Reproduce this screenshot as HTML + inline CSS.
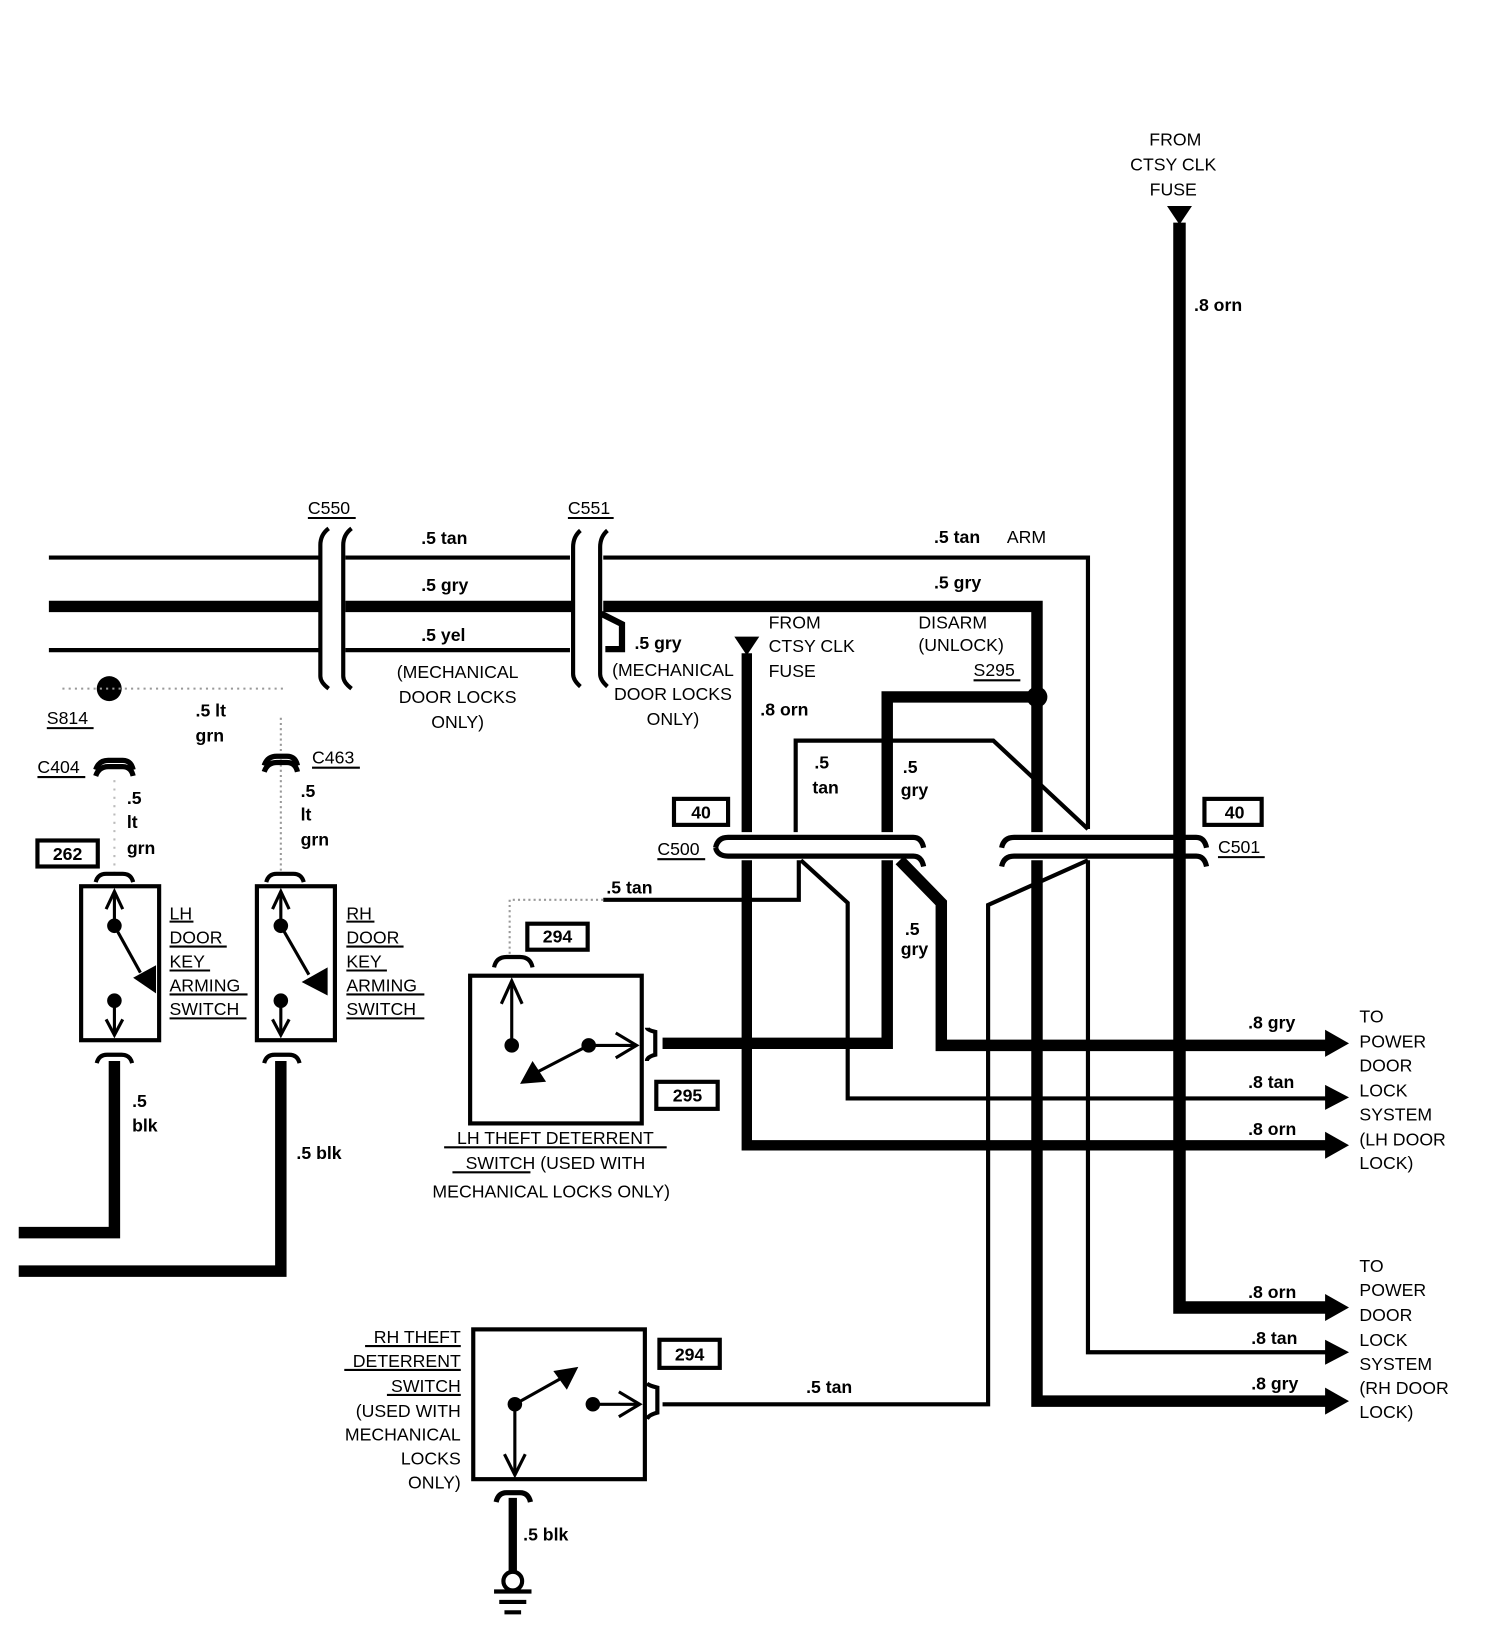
<!DOCTYPE html>
<html><head><meta charset="utf-8"><style>
html,body{margin:0;padding:0;background:#fff}
svg{display:block}
text{font-family:"Liberation Sans",sans-serif;font-weight:bold;font-size:17px;fill:#000}
.n{font-weight:normal}
</style></head><body>
<svg width="1504" height="1630" viewBox="0 0 1446 1567" preserveAspectRatio="none" xmlns="http://www.w3.org/2000/svg">
<g fill="none" stroke="#000" stroke-linecap="butt" stroke-linejoin="miter">
<!-- top feed -->
<polygon points="1122,198 1146,198 1134,216" fill="#000" stroke="none"/>
<polyline points="1134,214 1134,1257 1280,1257" stroke-width="12"/>
<!-- top wires -->
<g stroke-width="4">
<line x1="47" y1="536" x2="308" y2="536"/><line x1="332" y1="536" x2="548" y2="536"/>
<polyline points="580,536 1046,536 1046,797"/>
<line x1="47" y1="625" x2="308" y2="625"/><line x1="332" y1="625" x2="548" y2="625"/>
</g>
<g stroke-width="11">
<line x1="47" y1="583" x2="308" y2="583"/><line x1="332" y1="583" x2="550" y2="583"/>
<polyline points="580,583 997,583 997,800"/>
<polyline points="997,670 853,670 853,800"/>
</g>
<polyline points="578,590 598,600 598,624 582,624" stroke-width="6"/>
<!-- C550/C551 brackets -->
<g stroke-width="4">
<path d="M316,508 Q308,514 308,524 L308,650 Q308,656 316,662"/>
<path d="M338,508 Q330,514 330,524 L330,650 Q330,656 338,662"/>
<path d="M558,510 Q551,516 551,526 L551,648 Q551,654 558,660"/>
<path d="M584,510 Q577,516 577,526 L577,648 Q577,654 584,660"/>
</g>
<!-- second fuse feed -->
<polygon points="706,612 730,612 718,630" fill="#000" stroke="none"/>
<line x1="718" y1="628" x2="718" y2="800" stroke-width="10"/>
<polyline points="718,827 718,1101 1280,1101" stroke-width="10"/>
<!-- tan into C500 -->
<polyline points="765,800 765,712 955,712 1046,797" stroke-width="4"/>
<!-- connectors C500 C501 -->
<g stroke-width="5">
<path d="M688,815 Q690,805 700,805 L878,805 Q886,805 888,815"/>
<path d="M688,815 Q690,823 700,823 L878,823 Q886,823 888,833"/>
<path d="M963,815 Q965,805 975,805 L1150,805 Q1158,805 1160,815"/>
<path d="M963,833 Q965,823 975,823 L1150,823 Q1158,823 1160,833"/>
</g>
<!-- below C500 -->
<polyline points="770,827 815,868 815,1056 1280,1056" stroke-width="4"/>
<polyline points="865,827 905,868 905,1005 1280,1005" stroke-width="11"/>
<polyline points="637,1003 853,1003 853,827" stroke-width="11"/>
<polyline points="768,827 768,865 580,865" stroke-width="4"/>
<polyline points="580,865 490,865 490,918" stroke-width="2" stroke="#999" stroke-dasharray="2,3"/>
<!-- below C501 -->
<polyline points="1046,827 950,870 950,1350 637,1350" stroke-width="4"/>
<polyline points="1046,827 1046,1300 1280,1300" stroke-width="4"/>
<polyline points="997,827 997,1347 1280,1347" stroke-width="11"/>
<!-- arrowheads -->
<g fill="#000" stroke="none">
<polygon points="1274,990 1297,1003 1274,1016"/>
<polygon points="1274,1043 1297,1055 1274,1067"/>
<polygon points="1274,1088 1297,1101 1274,1114"/>
<polygon points="1274,1244 1297,1257 1274,1270"/>
<polygon points="1274,1288 1297,1300 1274,1312"/>
<polygon points="1274,1334 1297,1347 1274,1360"/>
<circle cx="997" cy="670" r="10"/>
<circle cx="105" cy="662" r="12"/>
</g>
<!-- boxes -->
<g stroke-width="4">
<rect x="648" y="768" width="52" height="25"/><rect x="1158" y="768" width="55" height="25"/>
<rect x="36" y="808" width="58" height="25"/>
<rect x="507" y="888" width="58" height="25"/><rect x="631" y="1040" width="59" height="26"/>
<rect x="634" y="1288" width="58" height="27"/>
</g>
<!-- left dotted -->
<line x1="60" y1="662" x2="275" y2="662" stroke="#999" stroke-width="2" stroke-dasharray="2,4"/>
<line x1="270" y1="690" x2="270" y2="840" stroke="#999" stroke-width="2" stroke-dasharray="2,3"/>
<line x1="110" y1="750" x2="110" y2="840" stroke="#bbb" stroke-width="2" stroke-dasharray="2,6"/>
<!-- C404 / C463 -->
<g stroke-width="5">
<path d="M92,740 Q95,731 104,731 L118,731 Q126,731 128,740"/>
<path d="M92,746 Q95,737 104,737 L118,737 Q126,737 128,746"/>
<path d="M254,736 Q257,727 266,727 L276,727 Q284,727 286,736"/>
<path d="M254,742 Q257,733 266,733 L276,733 Q284,733 286,742"/>
</g>
<!-- LH switch -->
<g stroke-width="4">
<rect x="78" y="852" width="75" height="148"/>
<rect x="247" y="852" width="75" height="148"/>
<path d="M92,848 Q94,840 102,840 L118,840 Q126,840 128,848"/>
<path d="M256,848 Q258,840 266,840 L282,840 Q290,840 292,848"/>
<path d="M93,1022 Q95,1014 103,1014 L117,1014 Q125,1014 127,1022"/>
<path d="M254,1022 Q256,1014 264,1014 L278,1014 Q286,1014 288,1022"/>
</g>
<g stroke-width="3">
<line x1="110" y1="890" x2="110" y2="857"/><polyline points="102,874 110,857 118,874"/>
<line x1="110" y1="890" x2="135" y2="935"/>
<line x1="110" y1="962" x2="110" y2="995"/><polyline points="102,980 110,995 118,980"/>
<line x1="270" y1="890" x2="270" y2="857"/><polyline points="262,874 270,857 278,874"/>
<line x1="270" y1="890" x2="297" y2="937"/>
<line x1="270" y1="962" x2="270" y2="995"/><polyline points="262,980 270,995 278,980"/>
</g>
<g fill="#000" stroke="none">
<circle cx="110" cy="890" r="7"/><circle cx="110" cy="962" r="7"/>
<polygon points="128,940 150,928 150,955"/>
<circle cx="270" cy="890" r="7"/><circle cx="270" cy="962" r="7"/>
<polygon points="290,944 315,930 315,957"/>
</g>
<polyline points="110,1020 110,1185 18,1185" stroke-width="11"/>
<polyline points="270,1020 270,1222 18,1222" stroke-width="11"/>
<!-- LH theft switch -->
<g stroke-width="4">
<rect x="452" y="938" width="165" height="142"/>
<path d="M475,930 Q477,920 487,920 L500,920 Q510,920 512,930"/>
<path d="M622,988 Q622,990 630,992 L630,1014 Q622,1016 622,1020"/>
<path d="M622,1330 Q624,1332 632,1334 L632,1358 Q624,1360 622,1364"/>
</g>
<g stroke-width="3">
<line x1="492" y1="1005" x2="492" y2="943"/><polyline points="482,965 492,943 502,965"/>
<line x1="512" y1="1033" x2="566" y2="1005"/><line x1="566" y1="1005" x2="612" y2="1005"/>
<polyline points="592,993 612,1005 592,1017"/>
</g>
<g fill="#000" stroke="none">
<circle cx="492" cy="1005" r="7"/><circle cx="566" cy="1005" r="7"/>
<polygon points="500,1042 512,1020 525,1040"/>
</g>
<!-- RH theft switch -->
<rect x="455" y="1278" width="165" height="144" stroke-width="4"/>
<g stroke-width="3">
<line x1="495" y1="1350" x2="545" y2="1322"/>
<line x1="495" y1="1350" x2="495" y2="1418"/><polyline points="485,1398 495,1418 505,1398"/>
<line x1="570" y1="1350" x2="615" y2="1350"/><polyline points="595,1338 615,1350 595,1362"/>
</g>
<g fill="#000" stroke="none">
<circle cx="495" cy="1350" r="7"/><circle cx="570" cy="1350" r="7"/>
<polygon points="532,1318 556,1314 545,1336"/>
</g>
<path d="M477,1444 Q479,1435 487,1435 L500,1435 Q508,1435 510,1444" stroke-width="5"/>
<line x1="493" y1="1440" x2="493" y2="1512" stroke-width="8"/>
<circle cx="493" cy="1520" r="9" stroke-width="4"/>
<g stroke-width="4"><line x1="475" y1="1530" x2="511" y2="1530"/><line x1="480" y1="1540" x2="506" y2="1540"/><line x1="485" y1="1550" x2="501" y2="1550"/></g>
<!-- underlines -->
<g stroke-width="2">
<line x1="296" y1="498" x2="342" y2="498"/><line x1="546" y1="498" x2="590" y2="498"/>
<line x1="45" y1="700" x2="90" y2="700"/><line x1="36" y1="747" x2="82" y2="747"/>
<line x1="300" y1="738" x2="346" y2="738"/><line x1="632" y1="826" x2="678" y2="826"/>
<line x1="1171" y1="824" x2="1216" y2="824"/><line x1="936" y1="654" x2="981" y2="654"/>
<line x1="163" y1="886" x2="186" y2="886"/><line x1="163" y1="910" x2="218" y2="910"/>
<line x1="163" y1="933" x2="202" y2="933"/><line x1="163" y1="956" x2="238" y2="956"/><line x1="163" y1="979" x2="237" y2="979"/>
<line x1="333" y1="886" x2="360" y2="886"/><line x1="333" y1="910" x2="388" y2="910"/>
<line x1="333" y1="933" x2="372" y2="933"/><line x1="333" y1="956" x2="408" y2="956"/><line x1="333" y1="979" x2="408" y2="979"/>
<line x1="427" y1="1103" x2="641" y2="1103"/><line x1="435" y1="1127" x2="510" y2="1127"/>
<line x1="351" y1="1294" x2="443" y2="1294"/><line x1="331" y1="1317" x2="443" y2="1317"/><line x1="372" y1="1341" x2="443" y2="1341"/>
</g>
</g>
<g>
<text x="1130" y="140" text-anchor="middle" class="n">FROM</text>
<text x="1128" y="164" text-anchor="middle" class="n">CTSY CLK</text>
<text x="1128" y="188" text-anchor="middle" class="n">FUSE</text>
<text x="1148" y="299">.8 orn</text>
<text x="296" y="494" class="n">C550</text><text x="546" y="494" class="n">C551</text>
<text x="405" y="523">.5 tan</text><text x="405" y="568">.5 gry</text><text x="405" y="616">.5 yel</text>
<text x="898" y="522">.5 tan</text><text x="968" y="522" class="n">ARM</text>
<text x="898" y="566">.5 gry</text>
<text x="440" y="652" text-anchor="middle" class="n">(MECHANICAL</text>
<text x="440" y="676" text-anchor="middle" class="n">DOOR LOCKS</text>
<text x="440" y="700" text-anchor="middle" class="n">ONLY)</text>
<text x="610" y="624">.5 gry</text>
<text x="647" y="650" text-anchor="middle" class="n">(MECHANICAL</text>
<text x="647" y="673" text-anchor="middle" class="n">DOOR LOCKS</text>
<text x="647" y="697" text-anchor="middle" class="n">ONLY)</text>
<text x="739" y="604" class="n">FROM</text><text x="739" y="627" class="n">CTSY CLK</text><text x="739" y="651" class="n">FUSE</text>
<text x="731" y="688">.8 orn</text>
<text x="883" y="604" class="n">DISARM</text><text x="883" y="626" class="n">(UNLOCK)</text><text x="936" y="650" class="n">S295</text>
<text x="45" y="696" class="n">S814</text>
<text x="188" y="689">.5 lt</text><text x="188" y="713">grn</text>
<text x="36" y="743" class="n">C404</text><text x="300" y="734" class="n">C463</text>
<text x="122" y="773">.5</text><text x="122" y="796">lt</text><text x="122" y="821">grn</text>
<text x="289" y="766">.5</text><text x="289" y="789">lt</text><text x="289" y="813">grn</text>
<text x="65" y="827" text-anchor="middle">262</text>
<text x="674" y="787" text-anchor="middle">40</text><text x="1187" y="787" text-anchor="middle">40</text>
<text x="632" y="822" class="n">C500</text><text x="1171" y="820" class="n">C501</text>
<text x="783" y="739">.5</text><text x="781" y="763">tan</text>
<text x="868" y="743">.5</text><text x="866" y="765">gry</text>
<text x="870" y="899">.5</text><text x="866" y="918">gry</text>
<text x="583" y="859">.5 tan</text>
<text x="536" y="906" text-anchor="middle">294</text>
<text x="661" y="1059" text-anchor="middle">295</text>
<text x="663" y="1308" text-anchor="middle">294</text>
<text x="163" y="884" class="n">LH</text><text x="163" y="907" class="n">DOOR</text><text x="163" y="930" class="n">KEY</text><text x="163" y="953" class="n">ARMING</text><text x="163" y="976" class="n">SWITCH</text>
<text x="333" y="884" class="n">RH</text><text x="333" y="907" class="n">DOOR</text><text x="333" y="930" class="n">KEY</text><text x="333" y="953" class="n">ARMING</text><text x="333" y="976" class="n">SWITCH</text>
<text x="127" y="1064">.5</text><text x="127" y="1088">blk</text>
<text x="285" y="1114">.5 blk</text>
<text x="534" y="1100" text-anchor="middle" class="n">LH THEFT DETERRENT</text>
<text x="534" y="1124" text-anchor="middle" class="n">SWITCH (USED WITH</text>
<text x="530" y="1151" text-anchor="middle" class="n">MECHANICAL LOCKS ONLY)</text>
<g text-anchor="end" class="n">
<text x="443" y="1291" class="n">RH THEFT</text><text x="443" y="1314" class="n">DETERRENT</text><text x="443" y="1338" class="n">SWITCH</text>
<text x="443" y="1362" class="n">(USED WITH</text><text x="443" y="1385" class="n">MECHANICAL</text><text x="443" y="1408" class="n">LOCKS</text><text x="443" y="1431" class="n">ONLY)</text>
</g>
<text x="503" y="1481">.5 blk</text>
<text x="775" y="1339">.5 tan</text>
<text x="1200" y="989">.8 gry</text><text x="1200" y="1046">.8 tan</text><text x="1200" y="1091">.8 orn</text>
<text x="1200" y="1248">.8 orn</text><text x="1203" y="1292">.8 tan</text><text x="1203" y="1336">.8 gry</text>
<text x="1307" y="983" class="n">TO</text><text x="1307" y="1007" class="n">POWER</text><text x="1307" y="1030" class="n">DOOR</text><text x="1307" y="1054" class="n">LOCK</text><text x="1307" y="1077" class="n">SYSTEM</text><text x="1307" y="1101" class="n">(LH DOOR</text><text x="1307" y="1124" class="n">LOCK)</text>
<text x="1307" y="1223" class="n">TO</text><text x="1307" y="1246" class="n">POWER</text><text x="1307" y="1270" class="n">DOOR</text><text x="1307" y="1294" class="n">LOCK</text><text x="1307" y="1317" class="n">SYSTEM</text><text x="1307" y="1340" class="n">(RH DOOR</text><text x="1307" y="1363" class="n">LOCK)</text>
</g>
</svg>
</body></html>
